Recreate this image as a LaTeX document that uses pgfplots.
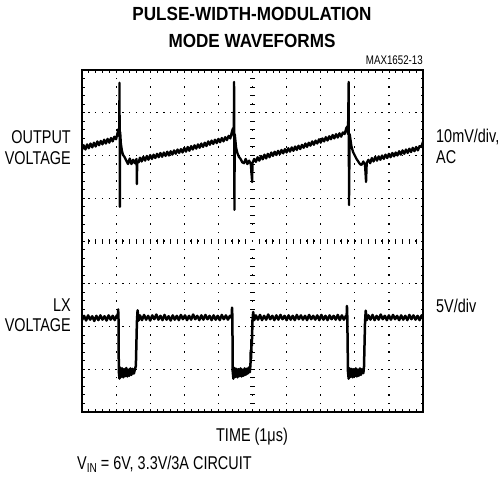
\documentclass[border=0pt]{standalone}
\usepackage{pgfplots}
\pgfplotsset{compat=1.18}
\usepackage{fontspec}
\setmainfont{Liberation Sans}[FakeStretch=0.78]
\newfontfamily\titlefont{Liberation Sans}[FakeStretch=0.9]
\begin{document}
\begin{tikzpicture}
\useasboundingbox (0,0) rectangle (504bp,484bp);
% frame, grid and data
\begin{axis}[at={(82bp,72bp)}, anchor=south west, scale only axis,
  width=341bp, height=342bp,
  xmin=0, xmax=10, ymin=0, ymax=8,
  xtick={0,...,10}, ytick={0,...,8},
  xticklabels={}, yticklabels={},
  minor x tick num=4, minor y tick num=4,
  tick align=inside, major tick length=2.5bp, minor tick length=2.5bp,
  tick style={black, line width=0.8bp},
  grid=major,
  major x grid style={black, line width=1.2bp, dash pattern=on 1.4bp off 7.15bp, dash phase=0.7bp},
  major y grid style={black, line width=1.2bp, dash pattern=on 1.4bp off 5.42bp, dash phase=0.7bp},
  axis line style={line width=2.6bp},
  clip=true]
\addplot[black, line width=2.3bp, line join=round] table {
0.00 6.13
0.05 6.24
0.10 6.14
0.15 6.26
0.20 6.17
0.25 6.28
0.30 6.19
0.35 6.30
0.40 6.21
0.45 6.33
0.50 6.24
0.55 6.34
0.60 6.26
0.65 6.37
0.70 6.28
0.75 6.39
0.80 6.30
0.85 6.41
0.90 6.33
0.95 6.44
1.00 6.38
1.04 6.52
1.07 6.62
1.09 6.45
1.10 7.70
1.11 4.80
1.12 6.55
1.14 6.28
1.17 6.12
1.20 6.02
1.25 5.96
1.30 5.88
1.35 5.80
1.40 5.93
1.45 5.80
1.50 5.90
1.55 5.82
1.60 5.92
1.61 5.33
1.62 5.86
1.66 5.84
1.70 5.95
1.75 5.86
1.80 5.97
1.85 5.88
1.90 5.99
1.95 5.90
2.00 6.01
2.05 5.92
2.10 6.02
2.15 5.94
2.20 6.04
2.25 5.96
2.30 6.06
2.35 5.97
2.40 6.07
2.45 5.99
2.50 6.09
2.55 6.00
2.60 6.10
2.65 6.02
2.70 6.12
2.75 6.04
2.80 6.14
2.85 6.06
2.90 6.15
2.95 6.07
3.00 6.18
3.05 6.09
3.10 6.20
3.15 6.11
3.20 6.22
3.25 6.14
3.30 6.24
3.35 6.16
3.40 6.26
3.45 6.18
3.50 6.28
3.55 6.20
3.60 6.30
3.65 6.22
3.70 6.33
3.75 6.25
3.80 6.35
3.85 6.27
3.90 6.37
3.95 6.29
4.00 6.39
4.05 6.31
4.10 6.41
4.15 6.33
4.20 6.43
4.25 6.36
4.30 6.46
4.35 6.40
4.40 6.57
4.43 6.64
4.45 6.45
4.46 7.72
4.47 4.73
4.48 6.50
4.52 6.18
4.56 6.05
4.60 5.97
4.65 5.92
4.70 5.84
4.75 5.82
4.80 5.92
4.85 5.80
4.90 5.88
4.95 5.80
4.99 5.38
5.00 5.83
5.05 5.92
5.10 5.85
5.15 5.96
5.20 5.88
5.25 5.99
5.30 5.91
5.35 6.02
5.40 5.93
5.45 6.04
5.50 5.96
5.55 6.07
5.60 5.99
5.65 6.09
5.70 6.01
5.75 6.11
5.80 6.03
5.85 6.13
5.90 6.05
5.95 6.15
6.00 6.07
6.05 6.17
6.10 6.09
6.15 6.19
6.20 6.11
6.25 6.21
6.30 6.13
6.35 6.23
6.40 6.15
6.45 6.25
6.50 6.18
6.55 6.28
6.60 6.20
6.65 6.30
6.70 6.23
6.75 6.33
6.80 6.25
6.85 6.35
6.90 6.28
6.95 6.38
7.00 6.30
7.05 6.40
7.10 6.33
7.15 6.43
7.20 6.35
7.25 6.45
7.30 6.38
7.35 6.48
7.40 6.40
7.45 6.50
7.50 6.42
7.55 6.52
7.60 6.44
7.65 6.54
7.70 6.50
7.75 6.64
7.78 6.68
7.80 6.50
7.82 7.72
7.83 4.84
7.85 6.50
7.90 6.22
7.95 6.08
8.00 6.00
8.05 5.92
8.10 5.86
8.15 5.80
8.20 5.78
8.25 5.86
8.30 5.78
8.33 5.38
8.35 5.83
8.40 5.90
8.45 5.82
8.50 5.94
8.55 5.86
8.60 5.97
8.65 5.88
8.70 5.98
8.75 5.90
8.80 6.00
8.85 5.92
8.90 6.02
8.95 5.94
9.00 6.04
9.05 5.96
9.10 6.06
9.15 5.98
9.20 6.07
9.25 6.00
9.30 6.10
9.35 6.02
9.40 6.12
9.45 6.04
9.50 6.14
9.55 6.06
9.60 6.16
9.65 6.08
9.70 6.18
9.75 6.10
9.80 6.20
9.85 6.12
9.90 6.22
9.95 6.20
10.0 6.32
};
\addplot[black, line width=2.5bp, line join=round] table {
0.00 2.15
0.06 2.25
0.12 2.14
0.18 2.26
0.24 2.16
0.30 2.24
0.36 2.13
0.42 2.25
0.48 2.15
0.54 2.26
0.60 2.16
0.66 2.24
0.72 2.14
0.78 2.26
0.84 2.16
0.90 2.25
0.96 2.15
1.02 2.26
1.05 2.20
1.06 2.40
1.07 2.22
1.08 0.95
1.10 0.78
1.12 1.04
1.15 0.82
1.18 1.02
1.21 0.81
1.24 1.00
1.27 0.84
1.30 1.03
1.33 0.83
1.36 0.99
1.39 0.85
1.42 1.02
1.45 0.87
1.48 1.01
1.52 0.90
1.56 1.02
1.58 1.08
1.61 2.10
1.63 2.38
1.66 2.14
1.70 2.26
1.76 2.15
1.82 2.27
1.88 2.16
1.94 2.25
2.00 2.14
2.06 2.26
2.12 2.17
2.18 2.28
2.24 2.16
2.30 2.25
2.36 2.15
2.42 2.27
2.48 2.16
2.54 2.24
2.60 2.14
2.66 2.26
2.72 2.16
2.78 2.25
2.84 2.15
2.90 2.27
2.96 2.17
3.02 2.26
3.08 2.15
3.14 2.25
3.20 2.16
3.26 2.28
3.32 2.17
3.38 2.25
3.44 2.15
3.50 2.26
3.56 2.16
3.62 2.27
3.68 2.17
3.74 2.25
3.80 2.15
3.86 2.26
3.92 2.16
3.98 2.25
4.04 2.15
4.10 2.27
4.16 2.17
4.22 2.26
4.28 2.16
4.34 2.25
4.39 2.20
4.40 2.44
4.41 2.22
4.42 0.95
4.44 0.78
4.47 1.03
4.50 0.82
4.53 1.01
4.56 0.81
4.59 1.00
4.62 0.84
4.65 1.02
4.68 0.83
4.71 0.99
4.74 0.85
4.77 1.02
4.80 0.87
4.83 1.01
4.86 0.90
4.89 1.04
4.92 0.93
4.94 1.10
4.95 1.45
4.96 1.25
4.97 1.70
4.98 1.55
5.00 2.15
5.02 2.34
5.05 2.15
5.10 2.26
5.16 2.16
5.22 2.27
5.28 2.15
5.34 2.25
5.40 2.16
5.46 2.28
5.52 2.17
5.58 2.25
5.64 2.15
5.70 2.26
5.76 2.16
5.82 2.27
5.88 2.17
5.94 2.25
6.00 2.15
6.06 2.26
6.12 2.16
6.18 2.25
6.24 2.15
6.30 2.27
6.36 2.17
6.42 2.26
6.48 2.16
6.54 2.25
6.60 2.15
6.66 2.27
6.72 2.17
6.78 2.25
6.84 2.16
6.90 2.26
6.96 2.15
7.02 2.27
7.08 2.16
7.14 2.25
7.20 2.15
7.26 2.26
7.32 2.17
7.38 2.25
7.44 2.16
7.50 2.27
7.56 2.15
7.62 2.26
7.68 2.16
7.74 2.25
7.76 2.20
7.77 2.48
7.78 2.22
7.80 0.95
7.82 0.78
7.85 1.02
7.88 0.82
7.91 1.01
7.94 0.81
7.97 1.00
8.00 0.84
8.03 1.02
8.06 0.83
8.09 0.99
8.12 0.85
8.15 1.02
8.18 0.87
8.21 1.00
8.25 0.91
8.27 1.06
8.30 2.10
8.32 2.37
8.35 2.15
8.40 2.26
8.46 2.16
8.52 2.27
8.58 2.15
8.64 2.25
8.70 2.16
8.76 2.28
8.82 2.17
8.88 2.25
8.94 2.15
9.00 2.26
9.06 2.16
9.12 2.27
9.18 2.17
9.24 2.25
9.30 2.15
9.36 2.26
9.42 2.16
9.48 2.25
9.54 2.15
9.60 2.27
9.66 2.17
9.72 2.26
9.78 2.16
9.84 2.25
9.90 2.15
9.96 2.26
10.0 2.20
};
\end{axis}
% centre cross with ticks
\begin{axis}[at={(82bp,72bp)}, anchor=south west, scale only axis,
  width=341bp, height=342bp,
  xmin=-5, xmax=5, ymin=-4, ymax=4,
  axis lines=center, axis line style={draw=none},
  xtick={-5,...,5}, ytick={-4,...,4},
  xticklabels={}, yticklabels={},
  minor x tick num=4, minor y tick num=4,
  tick align=center, major tick length=5bp, minor tick length=5bp,
  tick style={black, line width=1bp}]
\end{axis}
\node[anchor=base, font=\titlefont\bfseries\fontsize{19bp}{22bp}\selectfont] at (252bp,463bp) {PULSE-WIDTH-MODULATION};
\node[anchor=base, font=\titlefont\bfseries\fontsize{19bp}{22bp}\selectfont] at (252bp,436bp) {MODE WAVEFORMS};
\node[anchor=base east, inner xsep=0pt, font=\fontsize{12.5bp}{14bp}\selectfont] at (423bp,419bp) {MAX1652-13};
\node[anchor=base east, inner xsep=0pt, font=\fontsize{18.5bp}{22bp}\selectfont] at (71bp,340bp) {OUTPUT};
\node[anchor=base east, inner xsep=0pt, font=\fontsize{18.5bp}{22bp}\selectfont] at (71bp,319bp) {VOLTAGE};
\node[anchor=base west, inner xsep=0pt, font=\fontsize{18.5bp}{22bp}\selectfont] at (436bp,341bp) {10mV/div,};
\node[anchor=base west, inner xsep=0pt, font=\fontsize{18.5bp}{22bp}\selectfont] at (436bp,320bp) {AC};
\node[anchor=base east, inner xsep=0pt, font=\fontsize{18.5bp}{22bp}\selectfont] at (71bp,172bp) {LX};
\node[anchor=base east, inner xsep=0pt, font=\fontsize{18.5bp}{22bp}\selectfont] at (71bp,152bp) {VOLTAGE};
\node[anchor=base west, inner xsep=0pt, font=\fontsize{18.5bp}{22bp}\selectfont] at (436bp,171bp) {5V/div};
\node[anchor=base, inner xsep=0pt, font=\fontsize{18.5bp}{22bp}\selectfont] at (252bp,42bp) {TIME (1μs)};
\node[anchor=base west, inner xsep=0pt, font=\fontsize{18.5bp}{22bp}\selectfont] at (77bp,15bp) {V\raisebox{-3.5bp}{\fontsize{13bp}{13bp}\selectfont IN} = 6V, 3.3V/3A CIRCUIT};
\end{tikzpicture}
\end{document}
